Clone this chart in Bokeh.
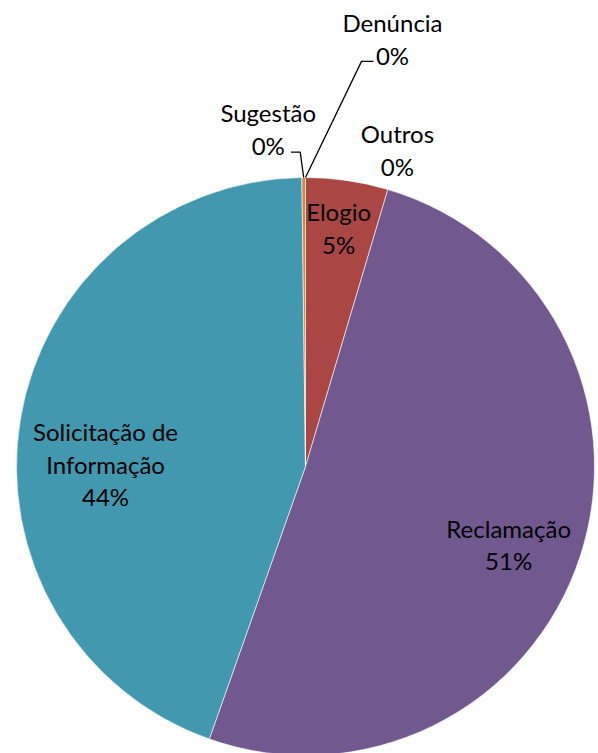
import math
from bokeh.plotting import figure
from bokeh.models import Range1d, ColumnDataSource
from bokeh.core.properties import value
from bokeh.embed import file_html
from bokeh.resources import INLINE

# ---- data ----
categories = ["Denúncia", "Elogio", "Outros", "Reclamação",
              "Solicitação de Informação", "Sugestão"]
label_texts = ["Denúncia", "Elogio", "Outros", "Reclamação",
               "Solicitação de\nInformação", "Sugestão"]
shares = [0.0, 4.6, 0.0, 50.8, 44.4, 0.2]

# ---- style ----
colors = ["#4572A7", "#AA4643", "#89A54E", "#71588F", "#4198AF", "#DB843D"]
# label placement: (angle clockwise from 12 o'clock in degrees, radius fraction)
label_polar = [(11.5, 1.51), (7.9, 0.833), (16.2, 1.14),
               (111.0, 0.753), (270.7, 0.692), (353.7, 1.175)]
FONT = "Lato"
FSIZE = "24px"

W, H = 598, 753
CX, CY, R = 305.0, -466.0, 289.0   # coordinates in window pixels (y negated)

p = figure(width=W, height=H, output_backend="svg", toolbar_location=None,
           x_range=Range1d(0, W), y_range=Range1d(-H, 0),
           x_axis_type=None, y_axis_type=None, min_border=0)
p.outline_line_color = None
p.grid.visible = False
p.background_fill_color = "white"

total = sum(shares)
cum = 0.0
starts, ends, cols, mids = [], [], [], []
for s, c in zip(shares, colors):
    a0 = cum / total * 2 * math.pi
    cum += s
    a1 = cum / total * 2 * math.pi
    mids.append((a0 + a1) / 2)
    if s > 0:
        starts.append(math.pi / 2 - a0)
        ends.append(math.pi / 2 - a1)
        cols.append(c)

src = ColumnDataSource(dict(x=[CX] * len(starts), y=[CY] * len(starts),
                            start=starts, end=ends, color=cols))
p.wedge(x="x", y="y", radius=R, start_angle="start", end_angle="end",
        direction="clock", fill_color="color", line_color="white",
        line_width=0.6, source=src)

# labels
lx, ly, lt = [], [], []
for i, (txt, s) in enumerate(zip(label_texts, shares)):
    ang, fr = label_polar[i]
    t = math.radians(ang)
    x = CX + R * fr * math.sin(t)
    y = CY + R * fr * math.cos(t)
    pct = round(s / total * 100)
    lx.append(x)
    ly.append(y)
    lt.append(f"{txt}\n{pct}%")

p.text(x=lx, y=ly, text=lt, text_align="center", text_baseline="middle",
       text_font=value(FONT), text_font_size=FSIZE, text_color="black",
       text_line_height=1.12)

# leader lines for Denúncia (0) and Sugestão (5)
def edge(i):
    a = mids[i]
    return CX + R * math.sin(a), CY + R * math.cos(a)

ex, ey = edge(0)
sx, sy = lx[0] - 19, ly[0] - 22.5
p.line([sx, sx - 12, ex], [sy, sy, ey], line_color="black", line_width=1.3)

ex, ey = edge(5)
sx, sy = lx[5] + 22.7, ly[5] - 23.2
p.line([sx, sx + 9.3, ex], [sy, sy, ey], line_color="black", line_width=1.3)

open("out.html", "w").write(file_html(p, INLINE))
